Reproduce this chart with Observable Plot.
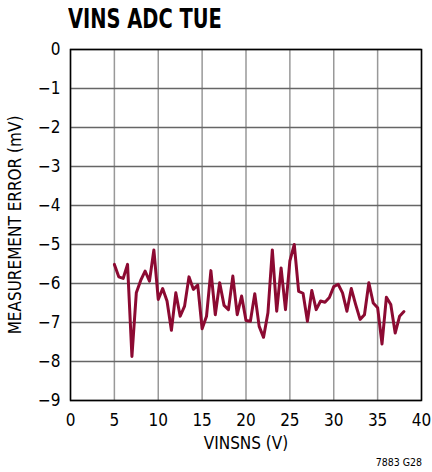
<!DOCTYPE html>
<html>
<head>
<meta charset="utf-8">
<script src="https://cdn.jsdelivr.net/npm/d3@7"></script>
<script src="https://cdn.jsdelivr.net/npm/@observablehq/plot@0.6"></script>
<style>
  html, body { margin: 0; padding: 0; background: #fff; }
  #wrap { position: relative; width: 432px; height: 472px; font-family: "Liberation Sans Narrow", "DejaVu Sans Condensed", "Liberation Sans", sans-serif; }
  #title { position: absolute; left: 68px; top: 3px; font-size: 27px; font-weight: bold; color: #000; transform: scaleX(0.8); transform-origin: left top; white-space: nowrap; }
  #caption { position: absolute; right: 10px; top: 456px; font-size: 10.5px; color: #000; }
</style>
</head>
<body>
<div id="wrap">
  <div id="chart"></div>
  <div id="title">VINS ADC TUE</div>
  <div id="caption">7883 G28</div>
</div>
<script>
const vinsns = [5, 5.5, 6, 6.5, 7, 7.5, 8, 8.5, 9, 9.5, 10, 10.5, 11, 11.5, 12, 12.5, 13, 13.5, 14, 14.5, 15, 15.5, 16, 16.5, 17, 17.5, 18, 18.5, 19, 19.5, 20, 20.5, 21, 21.5, 22, 22.5, 23, 23.5, 24, 24.5, 25, 25.5, 26, 26.5, 27, 27.5, 28, 28.5, 29, 29.5, 30, 30.5, 31, 31.5, 32, 32.5, 33, 33.5, 34, 34.5, 35, 35.5, 36, 36.5, 37, 37.5, 38];
const errorMv = [-5.51, -5.83, -5.87, -5.51, -7.87, -6.24, -5.92, -5.68, -5.94, -5.14, -6.41, -6.13, -6.45, -7.2, -6.24, -6.84, -6.58, -5.83, -6.15, -6.04, -7.16, -6.84, -5.67, -6.8, -5.98, -6.56, -6.67, -5.81, -6.8, -6.32, -6.95, -6.97, -6.26, -7.1, -7.38, -6.75, -5.14, -6.71, -5.6, -6.67, -5.42, -5.0, -6.2, -6.25, -6.97, -6.18, -6.67, -6.45, -6.48, -6.36, -6.08, -6.02, -6.24, -6.71, -6.13, -6.54, -6.92, -6.8, -5.98, -6.5, -6.62, -7.55, -6.35, -6.54, -7.27, -6.84, -6.72];
const xTicks = [0, 5, 10, 15, 20, 25, 30, 35, 40];
const yTicks = [0, -1, -2, -3, -4, -5, -6, -7, -8, -9];
const xLabel = "VINSNS (V)";
const yLabel = "MEASUREMENT ERROR (mV)";

const data = vinsns.map((v, i) => ({x: v, y: errorMv[i]}));

const chart = Plot.plot({
  width: 432,
  height: 472,
  marginLeft: 70,
  marginRight: 11,
  marginTop: 49,
  marginBottom: 72,
  style: {fontFamily: '"Liberation Sans Narrow", "DejaVu Sans Condensed", "Liberation Sans", sans-serif', background: "#fff", color: "#000"},
  x: {domain: [0, 40]},
  y: {domain: [-9, 0]},
  marks: [
    Plot.gridX(xTicks, {stroke: "#999", strokeOpacity: 1, strokeWidth: 1.5}),
    Plot.gridY(yTicks, {stroke: "#666", strokeOpacity: 1, strokeWidth: 1.5}),
    Plot.frame({stroke: "#000", strokeWidth: 1.5}),
    Plot.line(data, {x: "x", y: "y", stroke: "#8c0a32", strokeWidth: 3, strokeLinejoin: "round"}),
    Plot.axisX(xTicks, {tickSize: 0, tickPadding: 13, fontSize: 17, label: xLabel, labelAnchor: "center", labelOffset: 48, labelArrow: "none"}),
    Plot.axisY(yTicks, {tickSize: 0, tickPadding: 10, fontSize: 17, label: yLabel, labelAnchor: "center", labelOffset: 62, labelArrow: "none"})
  ]
});
document.getElementById("chart").appendChild(chart);
chart.querySelectorAll("g[aria-label='x-axis label'], g[aria-label='y-axis label']").forEach(g => g.setAttribute("font-size", 17));
</script>
</body>
</html>
